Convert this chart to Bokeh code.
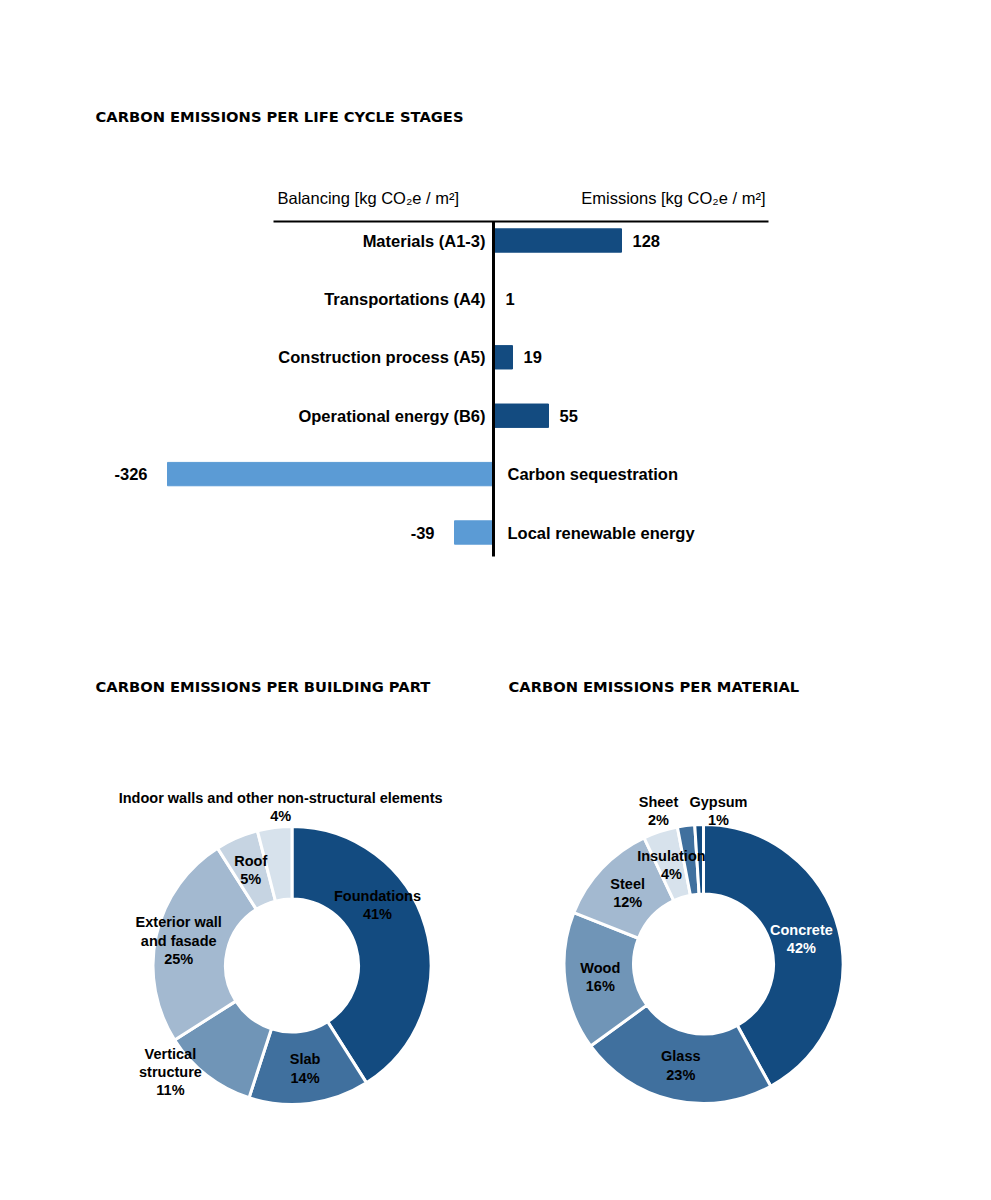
import math
from bokeh.plotting import figure
from bokeh.models import ColumnDataSource, Range1d, Label
from bokeh.layouts import column
from bokeh.embed import file_html
from bokeh.resources import INLINE
from bokeh.core.properties import value

# ---------------- data ----------------
stages = ["Materials (A1-3)", "Transportations (A4)", "Construction process (A5)",
          "Operational energy (B6)", "Carbon sequestration", "Local renewable energy"]
stage_values = [128, 1, 19, 55, -326, -39]

parts = ["Foundations", "Slab", "Vertical\nstructure", "Exterior wall\nand fasade",
         "Roof", "Indoor walls and other non-structural elements"]
part_pct = [41, 14, 11, 25, 5, 4]

materials = ["Concrete", "Glass", "Wood", "Steel", "Insulation", "Sheet", "Gypsum"]
material_pct = [42, 23, 16, 12, 4, 2, 1]

titles = ["CARBON EMISSIONS PER LIFE CYCLE STAGES",
          "CARBON EMISSIONS PER BUILDING PART",
          "CARBON EMISSIONS PER MATERIAL"]
header_left = "Balancing [kg CO\u2082e / m\u00b2]"
header_right = "Emissions [kg CO\u2082e / m\u00b2]"

# ---------------- styles ----------------
DARK = "#134b80"
LIGHT = "#5b9bd5"
FONT = "Liberation Sans"
TITLE_FONT = "DejaVu Sans"
TITLE_SIZE = "14.7px"
part_colors = ["#134b80", "#40709e", "#7095b7", "#a3b9d0", "#c6d4e2", "#d7e2ec"]
material_colors = ["#134b80", "#40709e", "#7095b7", "#a3b9d0", "#d7e2ec", "#40709e", "#134b80"]
material_text = ["white", "black", "black", "black", "black", "black", "black"]
part_text = ["black"] * 6

W = 975
H1 = 648
H2 = 544

# ---------------- bar chart ----------------
ROW = 58.4          # px per category
ZERO_PX = 493       # px from left of canvas to zero line
FIRST_ROW_PX = 240  # px from top of canvas to first row centre

p1 = figure(width=W, height=H1, output_backend="svg", toolbar_location=None,
            x_range=Range1d(-ZERO_PX, W - ZERO_PX),
            y_range=Range1d((H1 - FIRST_ROW_PX) / ROW, -FIRST_ROW_PX / ROW),
            x_axis_location=None, y_axis_location=None, min_border=0,
            outline_line_color=None, background_fill_color="white",
            border_fill_color="white")
p1.xgrid.visible = False
p1.ygrid.visible = False

idx = list(range(len(stages)))
left = [min(v, 0) for v in stage_values]
right = [max(v, 0) for v in stage_values]
colors = [DARK if v > 0 else LIGHT for v in stage_values]
src = ColumnDataSource(dict(y=idx, left=left, right=right, color=colors))
p1.hbar(y="y", left="left", right="right", height=0.4, color="color", source=src)

pos = [i for i, v in enumerate(stage_values) if v > 0]
neg = [i for i, v in enumerate(stage_values) if v <= 0]
pos_src = ColumnDataSource(dict(y=pos, x=[stage_values[i] for i in pos],
                                val=[str(stage_values[i]) for i in pos],
                                cat=[stages[i] for i in pos], zero=[0] * len(pos)))
neg_src = ColumnDataSource(dict(y=neg, x=[stage_values[i] for i in neg],
                                val=[str(stage_values[i]) for i in neg],
                                cat=[stages[i] for i in neg], zero=[0] * len(neg)))
common = dict(text_font=value(FONT), text_font_size="16.5px", text_font_style="bold",
              text_baseline="middle", text_color="black")
p1.text(x="x", y="y", text="val", x_offset=11, text_align="left", source=pos_src, **common)
p1.text(x="x", y="y", text="val", x_offset=-20, text_align="right", source=neg_src, **common)
p1.text(x="zero", y="y", text="cat", x_offset=-8, text_align="right", source=pos_src, **common)
p1.text(x="zero", y="y", text="cat", x_offset=14, text_align="left", source=neg_src, **common)

# zero line and header rule
line_top = -0.325
line_bottom = len(stages) - 0.59
p1.segment(x0=[0], y0=[line_top], x1=[0], y1=[line_bottom], line_color="black", line_width=3)
p1.segment(x0=[-220], y0=[line_top], x1=[275], y1=[line_top], line_color="black", line_width=2)

p1.add_layout(Label(x=-216, y=-0.72, text=header_left, text_font=FONT, text_font_size="16.5px",
                    text_baseline="middle", text_align="left", text_color="black"))
p1.add_layout(Label(x=272, y=-0.72, text=header_right, text_font=FONT, text_font_size="16.5px",
                    text_baseline="middle", text_align="right", text_color="black"))
p1.add_layout(Label(x=-398, y=-2.12, text=titles[0], text_font=TITLE_FONT,
                    text_font_size=TITLE_SIZE, text_font_style="bold",
                    text_baseline="middle", text_align="left", text_color="black"))

# ---------------- donuts ----------------
p2 = figure(width=W, height=H2, output_backend="svg", toolbar_location=None,
            x_range=Range1d(0, W), y_range=Range1d(0, H2),
            x_axis_location=None, y_axis_location=None, min_border=0,
            outline_line_color=None, background_fill_color="white",
            border_fill_color="white")
p2.xgrid.visible = False
p2.ygrid.visible = False


def donut(p, cx, cy, r_in, r_out, names, pcts, cols, tcols, overrides):
    total = float(sum(pcts))
    cum = 0.0
    starts, ends, lx, ly, texts = [], [], [], [], []
    for name, v in zip(names, pcts):
        a0 = math.pi / 2 - 2 * math.pi * cum / total
        a1 = math.pi / 2 - 2 * math.pi * (cum + v) / total
        starts.append(a1)
        ends.append(a0)
        mid = 360.0 * (cum + v / 2.0) / total
        theta, r = overrides.get(name, (mid, 104))
        t = math.radians(theta)
        lx.append(cx + r * math.sin(t))
        ly.append(cy + r * math.cos(t))
        texts.append(f"{name}\n{v}%")
        cum += v
    s = ColumnDataSource(dict(start=starts, end=ends, color=cols, lx=lx, ly=ly,
                              text=texts, tcol=tcols))
    p.annular_wedge(x=cx, y=cy, inner_radius=r_in, outer_radius=r_out,
                    start_angle="start", end_angle="end", fill_color="color",
                    line_color="white", line_width=3, source=s)
    p.text(x="lx", y="ly", text="text", text_color="tcol", text_font=value(FONT),
           text_font_size="14.5px", text_font_style="bold", text_align="center",
           text_baseline="middle", text_line_height=1.15, source=s)


donut(p2, 291.5, 227, 66.5, 139, parts, part_pct, part_colors, part_text,
      {"Foundations": (54.7, 104.7),
       "Vertical\nstructure": (228.8, 161.6),
       "Exterior wall\nand fasade": (282.4, 116),
       "Indoor walls and other non-structural elements": (355.9, 159)})
donut(p2, 703, 228.5, 70, 139.5, materials, material_pct, material_colors, material_text,
      {"Concrete": (75.7, 101), "Sheet": (343.6, 159.5), "Gypsum": (5.6, 153.7)})

p2.add_layout(Label(x=95, y=506, text=titles[1], text_font=TITLE_FONT,
                    text_font_size=TITLE_SIZE, text_font_style="bold",
                    text_baseline="middle", text_align="left", text_color="black"))
p2.add_layout(Label(x=508, y=506, text=titles[2], text_font=TITLE_FONT,
                    text_font_size=TITLE_SIZE, text_font_style="bold",
                    text_baseline="middle", text_align="left", text_color="black"))

layout = column(p1, p2, spacing=0)
open("out.html", "w").write(file_html(layout, INLINE))
